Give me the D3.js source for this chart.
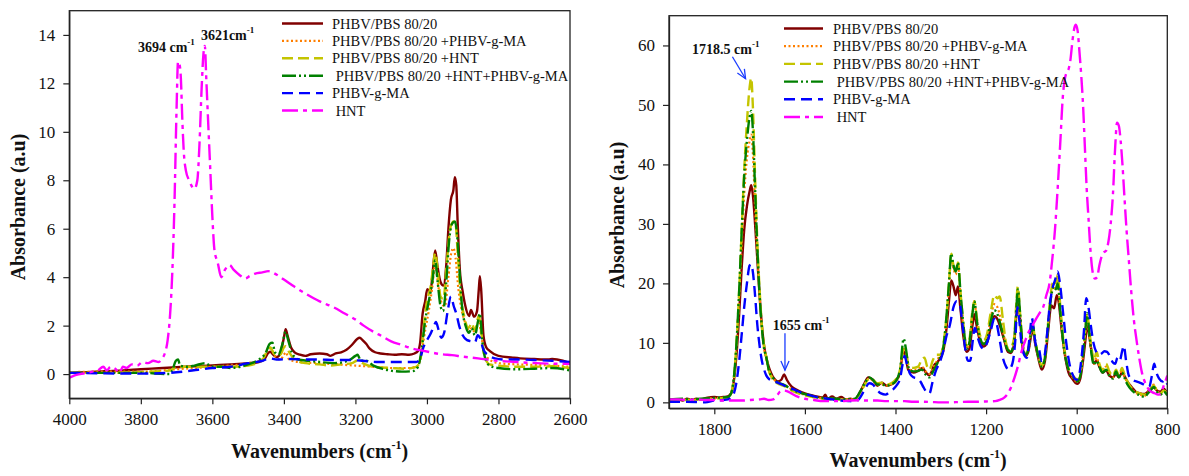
<!DOCTYPE html>
<html><head><meta charset="utf-8">
<script src="https://cdn.jsdelivr.net/npm/d3@7"></script>
<style>body{margin:0;background:#fff}svg{display:block;background:#fff}text{font-family:'Liberation Serif','Times New Roman',Times,serif}</style>
</head><body><svg id="c" width="1189" height="476"></svg>
<script>
// ---------------- DATA ----------------
const seriesNames = ["PHBV/PBS 80/20", "PHBV/PBS 80/20 +PHBV-g-MA", "PHBV/PBS 80/20 +HNT", " PHBV/PBS 80/20 +HNT+PHBV-g-MA", "PHBV-g-MA", " HNT"];

const leftXTicks = [4000, 3800, 3600, 3400, 3200, 3000, 2800, 2600];
const leftYTicks = [0, 2, 4, 6, 8, 10, 12, 14];
const rightXTicks = [1800, 1600, 1400, 1200, 1000, 800];
const rightYTicks = [0, 10, 20, 30, 40, 50, 60];

// Left panel (4000-2600 cm-1): [wavenumber, absorbance]
const L_PBS = [[4000,0.05],[3950,0.08],[3900,0.12],[3850,0.15],[3800,0.2],[3750,0.24],[3700,0.28],[3650,0.32],[3600,0.36],[3550,0.4],[3500,0.45],[3470,0.5],[3455,0.6],[3445,0.85],[3438,0.92],[3430,0.8],[3420,0.7],[3410,0.85],[3400,1.5],[3395,1.85],[3390,1.6],[3380,1.1],[3370,0.9],[3355,0.8],[3340,0.75],[3325,0.82],[3300,0.85],[3280,0.82],[3270,0.75],[3255,0.85],[3240,0.9],[3225,1.0],[3210,1.2],[3195,1.45],[3188,1.5],[3180,1.4],[3170,1.25],[3160,1.05],[3145,0.9],[3130,0.85],[3110,0.82],[3090,0.8],[3070,0.82],[3050,0.8],[3035,0.85],[3025,0.95],[3019,1.3],[3012,2.5],[3005,3.0],[2999,3.5],[2990,3.4],[2984,4.2],[2977,5.1],[2970,4.4],[2962,3.8],[2954,3.65],[2946,4.5],[2940,6.0],[2933,7.2],[2926,7.6],[2922,8.13],[2918,7.8],[2914,6.2],[2908,4.3],[2900,3.4],[2894,2.9],[2882,2.4],[2877,2.65],[2868,2.37],[2860,2.6],[2855,3.5],[2852,4.04],[2848,3.4],[2842,1.6],[2834,1.1],[2824,0.95],[2800,0.75],[2760,0.68],[2740,0.65],[2700,0.62],[2660,0.6],[2650,0.62],[2620,0.55],[2600,0.45]];
const L_PBS_MA = [[4000,0.08],[3900,0.1],[3800,0.1],[3700,0.2],[3600,0.3],[3500,0.45],[3460,0.6],[3445,1.0],[3438,1.05],[3425,0.75],[3410,0.6],[3400,0.8],[3395,0.9],[3385,0.6],[3360,0.5],[3300,0.45],[3250,0.4],[3200,0.35],[3150,0.3],[3100,0.25],[3050,0.25],[3025,0.35],[3015,0.9],[3005,1.8],[2995,2.6],[2985,3.6],[2977,4.5],[2968,3.6],[2958,2.9],[2950,2.8],[2940,4.0],[2932,5.0],[2926,5.2],[2920,4.8],[2912,3.5],[2905,2.8],[2895,2.2],[2882,1.8],[2875,1.9],[2865,1.7],[2855,2.2],[2848,1.6],[2840,0.9],[2825,0.6],[2800,0.45],[2750,0.4],[2700,0.38],[2650,0.35],[2600,0.3]];
const L_PBS_HNT = [[4000,0.05],[3900,0.05],[3800,0.08],[3720,0.15],[3700,0.3],[3650,0.3],[3600,0.3],[3550,0.3],[3500,0.35],[3460,0.6],[3445,1.0],[3438,1.1],[3425,0.8],[3410,0.8],[3400,1.1],[3395,1.15],[3385,0.9],[3370,0.6],[3340,0.45],[3300,0.4],[3270,0.35],[3240,0.4],[3210,0.45],[3195,0.55],[3180,0.45],[3150,0.3],[3100,0.25],[3060,0.22],[3030,0.3],[3018,0.6],[3010,1.8],[3000,3.0],[2990,3.6],[2983,4.4],[2977,5.0],[2970,4.3],[2962,3.2],[2954,3.1],[2945,4.5],[2935,6.0],[2926,6.3],[2920,6.2],[2914,5.0],[2906,3.3],[2896,2.4],[2884,1.9],[2875,2.1],[2866,1.8],[2855,2.4],[2848,1.7],[2840,0.8],[2825,0.4],[2800,0.35],[2750,0.3],[2700,0.3],[2650,0.32],[2600,0.25]];
const L_PBS_HNT_MA = [[4000,0.05],[3900,0.05],[3800,0.05],[3720,0.0],[3712,0.15],[3702,0.55],[3696,0.6],[3690,0.35],[3670,0.3],[3650,0.35],[3620,0.45],[3600,0.3],[3570,0.3],[3550,0.25],[3500,0.4],[3470,0.6],[3450,0.9],[3440,1.25],[3432,1.3],[3425,0.9],[3415,0.8],[3405,1.2],[3395,1.75],[3388,1.4],[3378,0.9],[3360,0.6],[3330,0.55],[3300,0.5],[3260,0.45],[3220,0.55],[3200,0.75],[3194,0.8],[3185,0.55],[3170,0.55],[3150,0.35],[3120,0.2],[3090,0.12],[3070,0.1],[3040,0.12],[3025,0.3],[3015,1.0],[3005,2.2],[2995,3.0],[2985,3.8],[2977,4.7],[2970,3.8],[2962,2.8],[2955,2.6],[2946,3.8],[2938,5.5],[2930,6.2],[2922,6.3],[2916,5.8],[2910,4.5],[2902,2.8],[2892,2.0],[2882,1.7],[2875,1.9],[2866,1.6],[2857,2.2],[2852,2.5],[2846,1.5],[2838,0.7],[2825,0.35],[2800,0.25],[2750,0.2],[2700,0.22],[2650,0.25],[2600,0.15]];
const L_MA = [[4000,0.05],[3900,0.03],[3800,0.02],[3720,0.05],[3680,0.1],[3640,0.18],[3600,0.25],[3550,0.3],[3500,0.45],[3460,0.55],[3440,0.65],[3420,0.6],[3380,0.62],[3340,0.6],[3300,0.6],[3260,0.58],[3220,0.58],[3180,0.55],[3140,0.5],[3100,0.5],[3060,0.5],[3030,0.5],[3018,0.7],[3010,1.1],[3000,1.4],[2992,1.6],[2980,2.0],[2975,2.15],[2967,1.8],[2960,1.5],[2952,1.7],[2942,2.6],[2933,3.2],[2925,2.8],[2918,2.5],[2910,2.0],[2900,1.6],[2888,1.4],[2875,1.35],[2866,1.3],[2858,1.6],[2852,1.5],[2842,1.0],[2830,0.8],[2810,0.65],[2780,0.6],[2740,0.6],[2700,0.58],[2650,0.55],[2600,0.5]];
const L_HNT = [[4000,-0.15],[3985,-0.05],[3970,0.0],[3950,0.05],[3935,0.1],[3920,0.15],[3905,0.3],[3895,0.15],[3885,0.3],[3870,0.2],[3860,0.05],[3850,0.3],[3840,0.25],[3825,0.4],[3810,0.35],[3795,0.5],[3780,0.45],[3765,0.55],[3750,0.5],[3740,0.65],[3733,0.85],[3725,1.4],[3718,2.5],[3712,4.2],[3706,7.0],[3700,11.0],[3696,12.9],[3692,12.8],[3688,12.2],[3684,10.5],[3680,9.2],[3674,8.4],[3665,8.0],[3650,7.65],[3642,8.0],[3636,9.5],[3630,11.8],[3625,13.2],[3621,13.55],[3617,12.2],[3612,10.5],[3606,8.5],[3600,6.5],[3594,5.1],[3585,4.6],[3575,4.0],[3565,4.3],[3552,4.5],[3540,4.3],[3525,4.1],[3508,3.95],[3495,4.05],[3480,4.15],[3460,4.2],[3444,4.25],[3420,4.1],[3400,3.9],[3370,3.6],[3337,3.3],[3300,3.0],[3260,2.75],[3230,2.5],[3200,2.25],[3177,2.0],[3150,1.75],[3124,1.55],[3100,1.35],[3070,1.2],[3040,1.05],[3017,0.98],[2990,0.9],[2960,0.82],[2930,0.78],[2900,0.72],[2857,0.65],[2803,0.55],[2750,0.5],[2696,0.45],[2650,0.43],[2600,0.42]];

// Right panel (1900-800 cm-1)
const R_PBS = [[1900,0.4],[1880,0.5],[1870,0.3],[1860,0.6],[1850,0.4],[1840,0.6],[1830,0.5],[1815,0.8],[1800,0.9],[1790,0.8],[1780,0.9],[1770,1.0],[1763,1.5],[1757,3.5],[1751,8],[1745,15],[1740,22],[1734,29],[1728,33],[1722,35.5],[1718.5,36.5],[1715,35],[1710,30],[1705,24],[1700,18],[1695,13],[1690,9.5],[1685,7.5],[1680,6],[1675,5],[1668,4],[1660,3.5],[1652,3.8],[1646,4.7],[1640,3.8],[1630,2.7],[1615,2.0],[1600,1.5],[1580,1.1],[1560,0.8],[1555,1.3],[1550,0.6],[1540,1.0],[1530,0.6],[1520,0.9],[1510,0.5],[1500,0.6],[1490,0.5],[1480,1.5],[1470,3.0],[1460,4.2],[1450,3.8],[1440,2.8],[1430,3.3],[1420,2.8],[1410,3.0],[1400,3.5],[1390,5],[1383,8.5],[1378,8.0],[1372,5.5],[1360,5.0],[1350,5.3],[1340,5.8],[1333,5.0],[1325,4.6],[1315,6.2],[1305,7.0],[1295,8.5],[1288,12],[1282,17],[1277,20.5],[1272,19.5],[1267,18.0],[1262,19.5],[1257,16],[1250,11],[1243,8.5],[1237,9],[1230,13],[1226,14.8],[1220,12.5],[1212,10],[1205,9.4],[1198,10],[1190,12.5],[1182,14.5],[1175,14],[1168,12.5],[1160,10.5],[1152,8.5],[1145,8.3],[1138,10],[1133,15],[1130,17.5],[1125,14],[1120,9.5],[1113,7.8],[1107,8.5],[1100,11.5],[1097,12.5],[1092,10],[1085,7.5],[1077,5.5],[1070,7],[1063,12],[1056,16.3],[1050,15.8],[1044,18],[1040,17],[1033,12],[1025,7.5],[1018,5],[1010,4],[1003,3.3],[998,3.1],[992,4],[986,7],[980,11],[977,13.2],[972,11],[967,8.5],[962,6.5],[956,7.0],[950,6.0],[943,5.0],[935,5.4],[928,4.5],[920,4.2],[913,4.8],[907,4.2],[900,5.0],[895,4.5],[888,3.5],[878,2.5],[870,1.8],[860,1.5],[850,1.4],[843,1.8],[837,2.2],[830,2.5],[823,2.0],[815,1.8],[808,2.3],[800,1.5]];
const R_PBS_MA = [[1900,0.3],[1870,0.4],[1850,0.4],[1830,0.5],[1810,0.6],[1790,0.7],[1770,0.8],[1763,1.5],[1757,3.8],[1751,9.5],[1745,18],[1740,26],[1734,35],[1728,41],[1722,44],[1718.5,45],[1715,42],[1710,33],[1705,25],[1700,18],[1695,12.5],[1690,9],[1685,7.3],[1680,5.5],[1672,4.2],[1665,3.6],[1655,3.2],[1645,2.9],[1630,2.2],[1610,1.5],[1590,1.1],[1570,0.8],[1550,0.6],[1530,0.6],[1510,0.5],[1490,0.5],[1478,1.6],[1468,3.0],[1458,4.0],[1450,3.7],[1440,2.9],[1430,3.0],[1420,2.8],[1410,3.0],[1400,3.6],[1390,5.2],[1382,9.0],[1377,8.5],[1370,5.5],[1360,5.4],[1350,5.6],[1342,6.0],[1333,5.2],[1325,4.8],[1315,6.0],[1305,7.5],[1295,9],[1288,13.5],[1282,19.5],[1277,24],[1272,22.5],[1267,21.5],[1262,23],[1257,18.5],[1250,12.5],[1243,9],[1237,10],[1230,15],[1226,17],[1220,13.5],[1212,10.5],[1205,10],[1198,10.8],[1190,14],[1182,16.5],[1175,16],[1168,14],[1160,11],[1152,9],[1145,8.6],[1138,10.5],[1133,16],[1130,18.5],[1125,14.5],[1120,10],[1113,8],[1107,8.8],[1100,12],[1097,13],[1092,10.5],[1085,7.8],[1077,6],[1070,7.5],[1063,13],[1056,18],[1050,19.5],[1046,19],[1042,20],[1036,15],[1028,9],[1020,6],[1012,4.5],[1005,3.8],[998,3.4],[992,4.5],[986,8],[980,12.5],[977,14],[972,11],[967,8.2],[962,6.5],[956,7.5],[950,6.2],[943,5.2],[935,6.0],[928,4.8],[920,4.2],[913,5.2],[907,4.3],[900,5.5],[895,4.5],[888,3.2],[878,2.2],[870,1.6],[860,1.3],[850,1.1],[843,1.6],[837,2.2],[830,3.0],[823,2.0],[815,1.5],[808,2.0],[800,1.4]];
const R_PBS_HNT = [[1900,0.3],[1870,0.4],[1850,0.4],[1830,0.5],[1810,0.6],[1790,0.7],[1770,0.8],[1763,1.5],[1757,4],[1751,10],[1745,19],[1740,28],[1734,39],[1728,47],[1722,53],[1718.5,54.5],[1715,50],[1710,38],[1705,27],[1700,19],[1695,13],[1690,9.5],[1685,7.5],[1680,5.5],[1672,4.0],[1665,3.4],[1655,3.0],[1645,2.7],[1630,2.0],[1610,1.4],[1590,1.0],[1570,0.7],[1550,0.5],[1530,0.5],[1510,0.4],[1490,0.5],[1478,1.6],[1468,3.0],[1458,4.0],[1450,3.8],[1440,3.2],[1430,3.3],[1420,3.0],[1410,3.2],[1400,3.8],[1390,5.5],[1382,9.0],[1377,8.5],[1370,6.0],[1360,5.8],[1350,6.0],[1342,7.2],[1336,7.5],[1330,6.0],[1325,5.5],[1318,7.0],[1310,8.0],[1302,8.0],[1295,9.5],[1288,14],[1282,20],[1277,25],[1272,23],[1267,22],[1262,23.5],[1257,19],[1250,13],[1243,9.5],[1237,10.5],[1230,15.5],[1226,17],[1220,14],[1212,11],[1205,10.5],[1198,11.5],[1190,15],[1182,18],[1175,17.5],[1170,17.8],[1163,14],[1156,10],[1150,9],[1143,9.5],[1138,11],[1133,17],[1130,19.5],[1125,15],[1120,10],[1113,8.2],[1107,9],[1100,12.5],[1097,13],[1092,10.5],[1085,8],[1077,6.2],[1070,7.8],[1063,13.5],[1056,19],[1050,20.5],[1046,20],[1042,21.5],[1036,16],[1028,9.5],[1020,6.2],[1012,4.8],[1005,4.2],[998,3.8],[992,4.8],[986,8.5],[980,13],[977,15],[972,12],[967,9],[962,7],[956,8.5],[950,6.5],[943,5.5],[935,6.5],[928,5.2],[920,4.5],[913,5.5],[907,4.5],[900,5.8],[895,4.8],[888,3.5],[878,2.3],[870,1.8],[860,1.5],[850,1.3],[843,1.8],[837,2.3],[830,2.8],[823,2.0],[815,1.5],[808,2.0],[800,1.5]];
const R_PBS_HNT_MA = [[1900,0.5],[1870,0.6],[1850,0.5],[1830,0.6],[1810,0.7],[1790,0.8],[1770,0.9],[1763,1.5],[1757,4],[1751,10],[1745,19],[1740,28],[1734,38],[1728,44],[1722,48],[1718.5,49],[1715,46],[1710,36],[1705,26],[1700,18],[1695,12.5],[1690,9],[1685,7.5],[1680,5.5],[1672,4.3],[1665,3.6],[1655,3.2],[1645,2.9],[1630,2.2],[1610,1.6],[1590,1.2],[1570,0.8],[1550,0.7],[1530,0.6],[1510,0.5],[1490,0.6],[1478,1.8],[1468,3.2],[1458,4.2],[1450,3.8],[1440,3.0],[1430,3.0],[1420,2.8],[1410,3.0],[1400,3.5],[1390,5.5],[1382,10.7],[1377,9.0],[1370,5.5],[1360,5.2],[1350,5.3],[1342,5.5],[1333,4.6],[1325,4.2],[1315,5.5],[1305,7.0],[1295,9],[1288,14],[1282,20],[1277,25],[1272,23],[1267,22],[1262,23.5],[1257,19],[1250,13],[1243,9],[1237,10],[1230,15],[1226,17],[1220,13.5],[1212,10.5],[1205,9.8],[1198,10.5],[1190,13.5],[1182,15.5],[1175,14.8],[1168,13],[1160,10.5],[1152,8.8],[1145,8.5],[1138,10.5],[1133,16],[1130,19],[1125,15],[1120,10],[1113,8],[1107,8.8],[1100,12],[1097,13],[1092,10.5],[1085,7.8],[1077,6],[1070,7.5],[1063,13],[1056,18],[1050,19.5],[1046,19],[1042,20],[1036,15],[1028,9],[1020,6],[1012,4.5],[1005,4.0],[998,3.5],[992,4.5],[986,8],[980,13],[977,15],[972,11.5],[967,8.0],[962,6.3],[956,7.0],[950,6.0],[943,5.0],[935,5.5],[928,4.5],[920,4.0],[913,5.2],[907,4.2],[900,5.0],[895,4.2],[888,3.0],[878,2.0],[870,1.5],[860,1.2],[850,0.9],[843,1.5],[837,2.0],[830,2.6],[823,1.8],[815,1.3],[808,1.8],[800,1.2]];
const R_MA = [[1900,0.1],[1860,0.1],[1820,0.0],[1800,0.3],[1780,0.4],[1770,0.5],[1760,1.0],[1752,3],[1745,7],[1740,11],[1734,16],[1728,20],[1722,23],[1718.5,23.2],[1715,22],[1710,18],[1705,13],[1700,9.5],[1695,7],[1690,5.5],[1685,4.5],[1680,4.0],[1670,3.6],[1660,3.3],[1650,3.0],[1640,2.6],[1625,2.2],[1610,1.7],[1595,1.3],[1580,1.0],[1560,0.7],[1540,0.5],[1520,0.3],[1500,0.2],[1490,0.1],[1480,0.6],[1472,1.6],[1465,2.6],[1458,3.2],[1450,3.0],[1442,2.2],[1432,1.5],[1422,1.3],[1412,1.8],[1405,2.2],[1398,2.8],[1390,4.0],[1384,6.5],[1380,7.8],[1375,6.5],[1368,4.8],[1360,4.2],[1352,4.0],[1345,3.5],[1338,2.5],[1330,1.6],[1325,1.5],[1318,3.5],[1310,5.5],[1302,6.8],[1295,8.5],[1288,11],[1280,13],[1272,16],[1265,17],[1258,16.5],[1252,13],[1246,9],[1240,7],[1235,7.0],[1230,10],[1225,12.5],[1219,11],[1212,9.5],[1205,9],[1198,10],[1190,12],[1182,14],[1176,13],[1170,10.5],[1163,7.5],[1156,6],[1150,5.5],[1142,6.5],[1136,10],[1131,16],[1127,14],[1122,10],[1116,8],[1110,7.5],[1104,11],[1099,14.2],[1094,11.5],[1088,9.0],[1083,8.8],[1078,7.0],[1072,7.5],[1066,11],[1060,16],[1054,19],[1048,20.5],[1042,22],[1037,20],[1030,15],[1023,10],[1016,6.5],[1008,4.5],[1001,3.8],[995,4.5],[990,7],[984,12],[979,17.5],[974,16],[969,13],[963,10],[957,8.5],[951,8.0],[945,8.2],[939,8.6],[933,8.5],[927,7.8],[921,6.8],[915,6.5],[910,7.5],[905,7.0],[900,8.5],[896,9.5],[891,7],[885,4.5],[877,3.8],[867,3.5],[857,3.2],[847,2.8],[840,2.6],[834,4.5],[829,6.5],[824,5.0],[818,4.0],[810,3.5],[805,3.8],[800,3.0]];
const R_HNT = [[1900,0.5],[1880,0.5],[1860,0.4],[1840,0.5],[1820,0.4],[1800,0.4],[1780,0.3],[1760,0.3],[1740,0.3],[1720,0.4],[1700,0.5],[1690,0.6],[1680,0.4],[1670,0.5],[1660,1.3],[1655,1.8],[1648,2.0],[1640,1.9],[1630,1.5],[1620,1.1],[1610,0.8],[1600,0.6],[1580,0.4],[1560,0.2],[1540,0.2],[1520,0.2],[1500,0.3],[1480,0.35],[1460,0.3],[1440,0.3],[1420,0.2],[1400,0.2],[1380,0.2],[1360,0.1],[1340,0.1],[1320,0.05],[1300,0.0],[1280,0.0],[1260,0.05],[1240,0.1],[1220,0.1],[1200,0.15],[1180,0.2],[1170,0.4],[1160,0.8],[1152,1.5],[1145,2.5],[1138,4.0],[1130,6],[1122,8.5],[1113,10.5],[1105,12],[1097,13],[1090,14],[1082,15],[1074,16],[1067,18],[1060,20],[1054,24],[1048,29],[1042,36],[1036,44],[1031,51],[1027,54],[1022,55.5],[1018,56],[1014,57.5],[1009,61],[1005,63],[1002,63.5],[998,62.5],[994,59],[990,55],[986,50],[982,43],[978,36],[974,31],[970,26],[965,22],[960,20.8],[955,21],[950,23],[945,24.5],[940,25.2],[935,25.5],[930,27],[925,30],[920,35],[915,43],[911,47],[907,46.5],[903,44],[899,40],[895,35],[890,29],[885,24],[880,19],[874,14],[868,10.5],[862,7.5],[856,5],[850,3.5],[843,2.4],[836,1.8],[830,1.6],[824,1.4],[818,1.3],[812,2.0],[806,3.2],[800,4.5]];

const leftSeries = [L_PBS, L_PBS_MA, L_PBS_HNT, L_PBS_HNT_MA, L_MA, L_HNT];
const rightSeries = [R_PBS, R_PBS_MA, R_PBS_HNT, R_PBS_HNT_MA, R_MA, R_HNT];

// ---------------- STYLE ----------------
const styles = [
  {color: "#800000", dash: null, w: 2.4},
  {color: "#FF7F00", dash: "2,2.5", w: 2.2},
  {color: "#C4C400", dash: "11,5", w: 2.4},
  {color: "#008000", dash: "14,3,2,3,2,3", w: 2.4},
  {color: "#0000FF", dash: "11,6", w: 2.4},
  {color: "#FF00FF", dash: "16,5,4,5", w: 2.4}
];

const svg = d3.select("#c");
svg.append("rect").attr("width", 1189).attr("height", 476).attr("fill", "#fff");

function supText(sel, main, sup, tail, supSize, supDy) {
  sel.append("tspan").text(main);
  sel.append("tspan").attr("dy", -supDy).attr("font-size", supSize).text(sup);
  if (tail) sel.append("tspan").attr("dy", supDy).text(tail);
}

function drawPanel(p, idx) {
  const x = d3.scaleLinear().domain(p.xDom).range([p.x0, p.x1]);
  const y = d3.scaleLinear().domain(p.yDom).range([p.y1, p.y0]);
  const g = svg.append("g");

  const clipId = "clip" + idx;
  svg.append("clipPath").attr("id", clipId).append("rect")
    .attr("x", p.x0).attr("y", p.y0).attr("width", p.x1 - p.x0).attr("height", p.y1 - p.y0);

  const line = d3.line().x(d => x(d[0])).y(d => y(d[1])).curve(d3.curveMonotoneX);
  const lg = g.append("g").attr("clip-path", `url(#${clipId})`);
  p.series.forEach((s, i) => {
    lg.append("path").datum(s).attr("d", line)
      .attr("fill", "none").attr("stroke", styles[i].color)
      .attr("stroke-width", styles[i].w)
      .attr("stroke-dasharray", styles[i].dash)
      .attr("stroke-linejoin", "round");
  });

  // frame
  g.append("rect").attr("x", p.x0).attr("y", p.y0).attr("width", p.x1 - p.x0).attr("height", p.y1 - p.y0)
    .attr("fill", "none").attr("stroke", "#222").attr("stroke-width", 1.3);

  const xAxis = g.append("g").attr("transform", `translate(0,${p.y1})`)
    .call(d3.axisBottom(x).tickValues(p.xTicks).tickFormat(d3.format("d")).tickSize(6).tickPadding(9).tickSizeOuter(0));
  const yAxis = g.append("g").attr("transform", `translate(${p.x0},0)`)
    .call(d3.axisLeft(y).tickValues(p.yTicks).tickFormat(d3.format("d")).tickSize(6).tickPadding(8).tickSizeOuter(0));
  [xAxis, yAxis].forEach(a => {
    a.select(".domain").attr("stroke", "#222").attr("stroke-width", 1.3);
    a.selectAll(".tick line").attr("stroke", "#222").attr("stroke-width", 1.2);
    a.selectAll(".tick text").attr("font-size", 17).attr("fill", "#111")
      .attr("font-family", "'Liberation Serif','Times New Roman',serif");
  });

  // axis titles
  const xt = g.append("text").attr("x", (p.x0 + p.x1) / 2).attr("y", p.xTitleY)
    .attr("text-anchor", "middle").attr("font-size", 20).attr("font-weight", "bold").attr("fill", "#111");
  supText(xt, "Wavenumbers (cm", "-1", ")", 12, 9);
  g.append("text").attr("transform", `translate(${p.yTitleX},${p.yTitleY}) rotate(-90)`)
    .attr("text-anchor", "middle").attr("font-size", 20).attr("font-weight", "bold").attr("fill", "#111")
    .text("Absorbance (a.u)");

  // legend
  const leg = g.append("g");
  seriesNames.forEach((n, i) => {
    const yy = p.leg.y0 + i * p.leg.dy;
    leg.append("line").attr("x1", p.leg.lx1).attr("x2", p.leg.lx2).attr("y1", yy).attr("y2", yy)
      .attr("stroke", styles[i].color).attr("stroke-width", styles[i].w).attr("stroke-dasharray", styles[i].dash);
    leg.append("text").attr("x", p.leg.tx).attr("y", yy).attr("dy", "0.35em")
      .attr("font-size", 14.5).attr("fill", "#111").style("white-space", "pre").text(n);
  });

  // annotations
  p.notes.forEach(a => {
    const t = g.append("text").attr("x", x(a.wn)).attr("y", y(a.v))
      .attr("font-size", 14).attr("font-weight", "bold").attr("fill", "#111");
    supText(t, a.label, "-1", null, 9, 7);
  });
  p.arrows.forEach(a => {
    const x1 = x(a.from[0]), y1 = y(a.from[1]), x2 = x(a.to[0]), y2 = y(a.to[1]);
    g.append("line").attr("x1", x1).attr("y1", y1).attr("x2", x2).attr("y2", y2)
      .attr("stroke", "#1a3cff").attr("stroke-width", 1.3);
    const ang = Math.atan2(y2 - y1, x2 - x1), L = 10, sp = 0.42;
    const pts = [[x2 - L * Math.cos(ang - sp), y2 - L * Math.sin(ang - sp)], [x2, y2], [x2 - L * Math.cos(ang + sp), y2 - L * Math.sin(ang + sp)]];
    g.append("path").attr("d", d3.line()(pts)).attr("fill", "none")
      .attr("stroke", "#1a3cff").attr("stroke-width", 1.3);
  });
}

drawPanel({
  x0: 69.3, x1: 570, y0: 10.7, y1: 398.3,
  xDom: [4000, 2600], yDom: [-1, 15],
  xTicks: leftXTicks, yTicks: leftYTicks,
  series: leftSeries,
  xTitleY: 458, yTitleX: 25, yTitleY: 207,
  leg: {lx1: 282, lx2: 323, tx: 332, y0: 23.5, dy: 17.4},
  notes: [{wn: 3808, v: 13.3, label: "3694 cm"}, {wn: 3632, v: 13.8, label: "3621cm"}],
  arrows: []
}, 0);

drawPanel({
  x0: 669, x1: 1167.3, y0: 15.7, y1: 408.3,
  xDom: [1900, 800], yDom: [-1, 65],
  xTicks: rightXTicks, yTicks: rightYTicks,
  series: rightSeries,
  xTitleY: 467, yTitleX: 624, yTitleY: 215,
  leg: {lx1: 784, lx2: 823, tx: 833, y0: 28.5, dy: 17.7},
  notes: [{wn: 1849, v: 58.6, label: "1718.5 cm"}, {wn: 1671, v: 12.1, label: "1655 cm"}],
  arrows: [{from: [1760, 58.1], to: [1731, 54.4]}, {from: [1644, 11.6], to: [1644, 5.4]}]
}, 1);
</script></body></html>
